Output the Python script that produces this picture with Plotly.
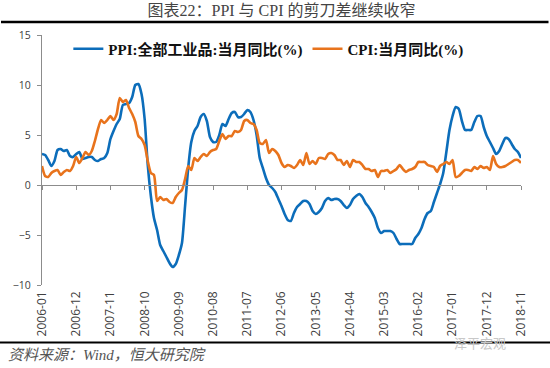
import plotly.graph_objects as go

months = [f"{y}-{m:02d}" for y in range(2006, 2019) for m in range(1, 13)][:155]

ppi = [3.1, 3.0, 2.5, 1.9, 2.4, 3.5, 3.6, 3.4, 3.5, 2.9, 2.8, 3.1,
       3.3, 2.6, 2.7, 2.8, 2.8, 2.5, 2.4, 2.6, 2.7, 3.2, 4.6, 5.4,
       6.1, 6.6, 8.0, 8.1, 8.2, 8.8, 10.0, 10.1, 9.1, 6.6, 2.0, -1.1,
       -3.3, -4.5, -6.0, -6.6, -7.2, -7.8, -8.2, -7.9, -7.0, -5.8, -2.1, 1.7,
       4.3, 5.4, 5.9, 6.8, 7.1, 6.4, 4.8, 4.3, 4.3, 5.0, 6.1, 5.9,
       6.6, 7.2, 7.3, 6.8, 6.8, 7.1, 7.5, 7.3, 6.5, 5.0, 2.7, 1.7,
       0.7, 0.0, -0.3, -0.7, -1.4, -2.1, -2.9, -3.5, -3.6, -2.8, -2.2, -1.9,
       -1.6, -1.6, -1.9, -2.6, -2.9, -2.7, -2.3, -1.6, -1.3, -1.5, -1.4, -1.4,
       -1.6, -2.0, -2.3, -2.0, -1.4, -1.1, -0.9, -1.2, -1.8, -2.2, -2.7, -3.3,
       -4.3, -4.8, -4.6, -4.6, -4.6, -4.8, -5.4, -5.9, -5.9, -5.9, -5.9, -5.9,
       -5.3, -4.9, -4.3, -3.4, -2.8, -2.6, -1.7, -0.8, 0.1, 1.2, 3.3, 5.5,
       6.9, 7.8, 7.6, 6.4, 5.5, 5.5, 5.5, 6.3, 6.9, 6.9, 5.8, 4.9,
       4.3, 3.7, 3.1, 3.4, 4.1, 4.7, 4.6, 4.1, 3.6, 3.3, 2.7]

cpi = [1.9, 0.9, 0.8, 1.2, 1.4, 1.5, 1.0, 1.3, 1.5, 1.4, 1.9, 2.8,
       2.2, 2.7, 3.3, 3.0, 3.4, 4.4, 5.6, 6.5, 6.2, 6.5, 6.9, 6.5,
       7.1, 8.7, 8.3, 8.5, 7.7, 7.1, 6.3, 4.9, 4.6, 4.0, 2.4, 1.2,
       1.0, -1.6, -1.2, -1.5, -1.4, -1.7, -1.8, -1.2, -0.8, -0.5, 0.6, 1.9,
       1.5, 2.7, 2.4, 2.8, 3.1, 2.9, 3.3, 3.5, 3.6, 4.4, 5.1, 4.6,
       4.9, 4.9, 5.4, 5.3, 5.5, 6.4, 6.5, 6.2, 6.1, 5.5, 4.2, 4.1,
       4.5, 3.2, 3.6, 3.4, 3.0, 2.2, 1.8, 2.0, 1.9, 1.7, 2.0, 2.5,
       2.0, 3.2, 2.1, 2.4, 2.1, 2.7, 2.7, 2.6, 3.1, 3.2, 3.0, 2.5,
       2.5, 2.0, 2.4, 1.8, 2.5, 2.3, 2.3, 2.0, 1.6, 1.6, 1.4, 1.5,
       0.8, 1.4, 1.4, 1.5, 1.2, 1.4, 1.6, 2.0, 1.6, 1.3, 1.5, 1.6,
       1.8, 2.3, 2.3, 2.3, 2.0, 1.9, 1.8, 1.3, 1.9, 2.1, 2.3, 2.1,
       2.5, 0.8, 0.9, 1.2, 1.5, 1.5, 1.4, 1.8, 1.6, 1.9, 1.7, 1.8,
       1.5, 2.9, 2.1, 1.8, 1.8, 1.9, 2.1, 2.3, 2.5, 2.5, 2.2]

tick_labels = ["2006-01", "2006-12", "2007-11", "2008-10", "2009-09", "2010-08",
               "2011-07", "2012-06", "2013-05", "2014-04", "2015-03", "2016-02",
               "2017-01", "2017-12", "2018-11"]
y_ticks = [-10, -5, 0, 5, 10, 15]

title_text = "图表22：PPI 与 CPI 的剪刀差继续收窄"
source_text = "资料来源：Wind，恒大研究院"
ppi_name = "PPI:全部工业品:当月同比(%)"
cpi_name = "CPI:当月同比(%)"

xs = list(range(len(months)))
tick_pos = [months.index(t) for t in tick_labels]

fig = go.Figure()
fig.add_trace(go.Scatter(x=xs, y=ppi, name=ppi_name, mode="lines",
                         line=dict(color="#0C6DBA", width=2.6, shape="spline", smoothing=0.6),
                         customdata=months, hovertemplate="%{customdata}: %{y}<extra></extra>"))
fig.add_trace(go.Scatter(x=xs, y=cpi, name=cpi_name, mode="lines", xaxis="x2",
                         line=dict(color="#E8731C", width=2.6, shape="spline", smoothing=0.6),
                         customdata=months, hovertemplate="%{customdata}: %{y}<extra></extra>"))

serif = "Liberation Serif, Noto Sans CJK SC, serif"
sans = "Open Sans, Noto Sans, Noto Sans CJK SC, sans-serif"

fig.update_layout(
    width=550, height=368,
    margin=dict(l=42, r=29, t=35, b=83),
    paper_bgcolor="white", plot_bgcolor="white",
    title=dict(text=title_text, x=0.5, xref="paper", xanchor="center",
               y=1 - 10 / 368, yref="container", yanchor="middle",
               font=dict(family=serif, size=16, color="#444444")),
    showlegend=True,
    legend=dict(orientation="h", x=0.055, y=1.01, xanchor="left", yanchor="top",
                bgcolor="rgba(0,0,0,0)", font=dict(family=serif, size=15, color="#111111", weight="bold"),
                itemwidth=30, tracegroupgap=0),
    xaxis=dict(range=[0, len(months) - 1], tickvals=tick_pos, ticktext=tick_labels,
               tickangle=-90, showline=False, showgrid=False, zeroline=False, ticks="",
               ticklabelstandoff=3,
               tickfont=dict(family=sans, size=12, color="#404040")),
    xaxis2=dict(range=[0, len(months) - 1], overlaying="x", anchor="free", position=0.4,
                side="bottom", tickvals=tick_pos, showticklabels=False, showline=True,
                linecolor="#8c8c8c", linewidth=1.3, ticks="outside", ticklen=4,
                tickcolor="#8c8c8c", showgrid=False, zeroline=False),
    yaxis=dict(range=[-10, 15], tickvals=y_ticks, showgrid=False, zeroline=False,
               showline=True, linecolor="#8c8c8c", linewidth=1.3, ticks="outside",
               ticklen=4, tickcolor="#8c8c8c", ticklabelstandoff=4,
               tickfont=dict(family=sans, size=10.5, color="#404040")),
)

# top rule drawn as an arrow-less annotation line (pixels), bottom rule as shape
fig.add_annotation(xref="paper", yref="paper", x=-42 / 479, y=(285 - 22) / 250,
                   ax=550, ay=0, axref="pixel", ayref="pixel", text="", showarrow=True,
                   arrowhead=0, arrowwidth=2.5, arrowcolor="black", standoff=0, startstandoff=0)
fig.add_shape(type="line", xref="paper", yref="paper", x0=-42 / 479, x1=508 / 479,
              y0=(285 - 342.5) / 250, y1=(285 - 342.5) / 250, layer="above",
              line=dict(color="black", width=2))
fig.add_annotation(text=source_text, xref="paper", yref="paper", x=(6 - 42) / 479,
                   y=(285 - 355) / 250, xanchor="left", yanchor="middle", showarrow=False,
                   font=dict(family=serif, size=15, color="#555555", style="italic"))
fig.add_annotation(text="泽平宏观", xref="paper", yref="paper", x=(508 - 42) / 479,
                   y=(285 - 343) / 250, xanchor="right", yanchor="middle", showarrow=False,
                   font=dict(family=sans, size=13, color="#c8c8c8"))

fig.write_html("out.html", config={"displayModeBar": False},
               post_script="document.body.style.margin='0';document.body.style.padding='0';")
